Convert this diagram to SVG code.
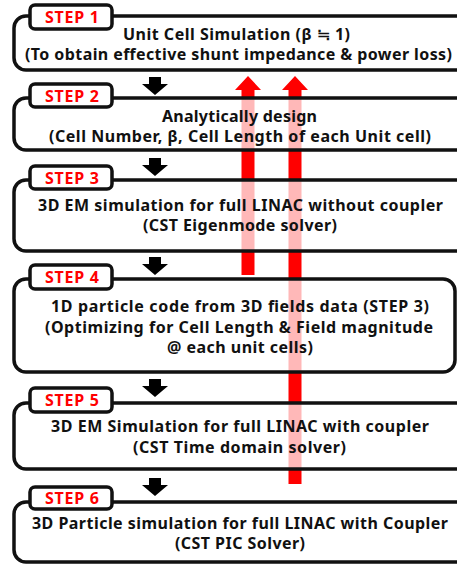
<svg xmlns="http://www.w3.org/2000/svg" width="457" height="564" viewBox="0 0 457 564">
<defs>
<style>
.box{fill:#fff;fill-opacity:0.72;stroke:#111;stroke-width:3.5}
.tab{fill:#fff;stroke:#111;stroke-width:3.5}
.step{font-family:"Noto Sans","Noto Sans CJK KR",sans-serif;font-weight:bold;font-size:16px;fill:#ff0000}
.t{font-family:"Noto Sans","Noto Sans CJK KR",sans-serif;font-weight:bold;font-size:16px;fill:#111}
.red{fill:#ff0000}
.blk{fill:#000}
</style>
</defs>
<rect width="457" height="564" fill="#fff"/>
<g id="feedback">
<polygon class="red" points="248,76 261,90 254.5,90 254.5,275 241.5,275 241.5,90 235,90"/>
<polygon class="red" points="295,76 308,90 301.5,90 301.5,484 288.5,484 288.5,90 282,90"/>
</g>
<g id="connectors">
<polygon class="blk" points="149,77 161,77 161,84 168,84 155,95 142,84 149,84"/>
<polygon class="blk" points="149,158 161,158 161,165 168,165 155,176 142,165 149,165"/>
<polygon class="blk" points="149,257 161,257 161,264 168,264 155,275 142,264 149,264"/>
<polygon class="blk" points="149,379 161,379 161,386 168,386 155,397 142,386 149,386"/>
<polygon class="blk" points="149,478 161,478 161,485 168,485 155,496 142,485 149,485"/>
</g>
<g id="step1">
<rect class="box" x="14" y="16" width="470" height="54" rx="12"/>
<rect class="tab" x="30" y="5" width="82" height="24" rx="5"/>
<text class="step" x="45" y="23" textLength="54">STEP 1</text>
<text class="t" x="123" y="40" textLength="227">Unit Cell Simulation (β ≒ 1)</text>
<text class="t" x="25" y="60" textLength="427">(To obtain effective shunt impedance &amp; power loss)</text>
</g>
<g id="step2">
<rect class="box" x="14" y="98" width="470" height="52" rx="12"/>
<rect class="tab" x="30" y="84" width="82" height="23" rx="5"/>
<text class="step" x="45" y="102" textLength="54">STEP 2</text>
<text class="t" x="162" y="122" textLength="155">Analytically design</text>
<text class="t" x="49" y="142" textLength="382">(Cell Number, β, Cell Length of each Unit cell)</text>
</g>
<g id="step3">
<rect class="box" x="14" y="180" width="470" height="71" rx="12"/>
<rect class="tab" x="30" y="166" width="82" height="23" rx="5"/>
<text class="step" x="45" y="184" textLength="54">STEP 3</text>
<text class="t" x="38" y="211" textLength="405">3D EM simulation for full LINAC without coupler</text>
<text class="t" x="143" y="231" textLength="194">(CST Eigenmode solver)</text>
</g>
<g id="step4">
<rect class="box" x="14" y="279" width="441" height="93" rx="12"/>
<rect class="tab" x="30" y="265" width="82" height="24" rx="5"/>
<text class="step" x="45" y="283" textLength="54">STEP 4</text>
<text class="t" x="51" y="312" textLength="378">1D particle code from 3D fields data (STEP 3)</text>
<text class="t" x="45" y="333" textLength="388">(Optimizing for Cell Length &amp; Field magnitude</text>
<text class="t" x="167" y="353" textLength="146">@ each unit cells)</text>
</g>
<g id="step5">
<rect class="box" x="14" y="403" width="470" height="66" rx="12"/>
<rect class="tab" x="30" y="388" width="82" height="24" rx="5"/>
<text class="step" x="45" y="406" textLength="54">STEP 5</text>
<text class="t" x="51" y="432" textLength="378">3D EM Simulation for full LINAC with coupler</text>
<text class="t" x="133" y="453" textLength="213">(CST Time domain solver)</text>
</g>
<g id="step6">
<rect class="box" x="14" y="502" width="470" height="60" rx="12"/>
<rect class="tab" x="30" y="487" width="82" height="22" rx="5"/>
<text class="step" x="45" y="504" textLength="54">STEP 6</text>
<text class="t" x="32" y="529" textLength="416">3D Particle simulation for full LINAC with Coupler</text>
<text class="t" x="175" y="549" textLength="130">(CST PIC Solver)</text>
</g>
</svg>
